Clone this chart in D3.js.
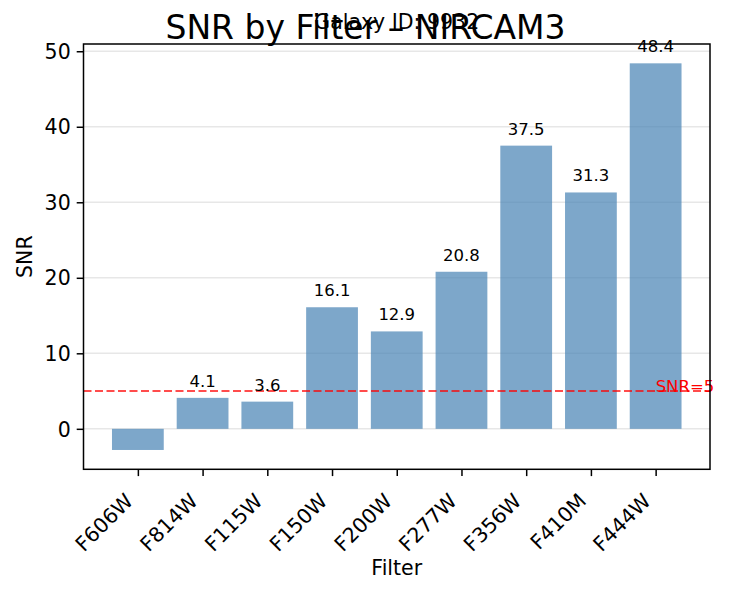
<!DOCTYPE html>
<html>
<head>
<meta charset="utf-8">
<script src="https://cdn.jsdelivr.net/npm/d3@7"></script>
<style>
  body { margin: 0; background: #fff; }
  svg text { font-family: "DejaVu Sans", sans-serif; }
</style>
</head>
<body>
<svg id="chart" width="729" height="593"></svg>
<script>
// Chart data
var filters = ["F606W", "F814W", "F115W", "F150W", "F200W", "F277W", "F356W", "F410M", "F444W"];
var snrValues = [-2.8, 4.1, 3.6, 16.1, 12.9, 20.8, 37.5, 31.3, 48.4];
var yTicks = [0, 10, 20, 30, 40, 50];
var threshold = 5;
var titleText = "SNR by Filter \u2013 NIRCAM3";
var subtitleText = "Galaxy ID: 9932";

var svg = d3.select("#chart");
var plot = { left: 83.5, right: 710, top: 44, bottom: 469.3 };

// x: positions like matplotlib bar with 5% margins
var n = filters.length;
var xPad = 0.05 * (n - 1 + 0.8);
var x = d3.scaleLinear()
  .domain([-0.4 - xPad, n - 1 + 0.4 + xPad])
  .range([plot.left, plot.right]);

var lo = Math.min(0, d3.min(snrValues));
var hi = Math.max(0, d3.max(snrValues));
var yPad = 0.05 * (hi - lo);
var y = d3.scaleLinear()
  .domain([lo - yPad, hi + yPad])
  .range([plot.bottom, plot.top]);

// grid lines
svg.append("g")
  .selectAll("line")
  .data(yTicks)
  .enter().append("line")
  .attr("x1", plot.left).attr("x2", plot.right)
  .attr("y1", d => y(d)).attr("y2", d => y(d))
  .attr("stroke", "#b0b0b0").attr("stroke-opacity", 0.3)
  .attr("stroke-width", 1.5);

// bars
var barW = x(0.8) - x(0);
svg.append("g")
  .selectAll("rect")
  .data(snrValues)
  .enter().append("rect")
  .attr("x", (d, i) => x(i) - barW / 2)
  .attr("width", barW)
  .attr("y", d => y(Math.max(0, d)))
  .attr("height", d => Math.abs(y(d) - y(0)))
  .attr("fill", "steelblue")
  .attr("fill-opacity", 0.7);

// threshold line
svg.append("line")
  .attr("x1", plot.left).attr("x2", plot.right)
  .attr("y1", y(threshold)).attr("y2", y(threshold))
  .attr("stroke", "red").attr("stroke-opacity", 0.7)
  .attr("stroke-width", 1.9)
  .attr("stroke-dasharray", "8,3.5");

svg.append("text")
  .attr("x", x(n - 1))
  .attr("y", y(threshold) + 1)
  .attr("fill", "red")
  .attr("font-size", 16.5)
  .text("SNR=" + threshold);

// axes
var xAxis = d3.axisBottom(x)
  .tickValues(d3.range(n))
  .tickFormat(i => filters[i])
  .tickSizeInner(6.8).tickSizeOuter(0).tickPadding(6);
var yAxis = d3.axisLeft(y)
  .tickValues(yTicks)
  .tickSizeInner(6.8).tickSizeOuter(0).tickPadding(6);

var gx = svg.append("g")
  .attr("transform", "translate(0," + plot.bottom + ")")
  .call(xAxis);
gx.select(".domain").remove();
gx.selectAll("line").attr("stroke", "#000").attr("stroke-width", 1.5);
gx.selectAll("text")
  .attr("font-size", 20.5)
  .attr("fill", "#000")
  .attr("text-anchor", "end")
  .attr("dy", null)
  .attr("y", null)
  .attr("transform", "translate(-4," + 33 + ") rotate(-45)");

var gy = svg.append("g")
  .attr("transform", "translate(" + plot.left + ",0)")
  .call(yAxis);
gy.select(".domain").remove();
gy.selectAll("line").attr("stroke", "#000").attr("stroke-width", 1.5);
gy.selectAll("text").attr("font-size", 20.5).attr("fill", "#000").attr("dy", "0.35em");

// spines
svg.append("rect")
  .attr("x", plot.left).attr("y", plot.top)
  .attr("width", plot.right - plot.left)
  .attr("height", plot.bottom - plot.top)
  .attr("fill", "none").attr("stroke", "#000").attr("stroke-width", 1.5);

// value labels above positive bars
svg.append("g")
  .selectAll("text")
  .data(snrValues.map((v, i) => ({ v: v, i: i })).filter(d => d.v > 0))
  .enter().append("text")
  .attr("x", d => x(d.i))
  .attr("y", d => y(d.v + 1) - 3.5)
  .attr("text-anchor", "middle")
  .attr("font-size", 16.5)
  .attr("fill", "#000")
  .text(d => d.v.toFixed(1));

// axis labels
svg.append("text")
  .attr("x", (plot.left + plot.right) / 2)
  .attr("y", 575)
  .attr("text-anchor", "middle")
  .attr("font-size", 20.5)
  .text("Filter");

svg.append("text")
  .attr("transform", "translate(32," + (plot.top + plot.bottom) / 2 + ") rotate(-90)")
  .attr("text-anchor", "middle")
  .attr("font-size", 20.5)
  .text("SNR");

// titles (they overlap in the original too)
svg.append("text")
  .attr("x", (plot.left + plot.right) / 2)
  .attr("y", 29)
  .attr("text-anchor", "middle")
  .attr("font-size", 20.5)
  .text(subtitleText);

svg.append("text")
  .attr("x", 729 / 2 + 1)
  .attr("y", 39)
  .attr("text-anchor", "middle")
  .attr("font-size", 33)
  .text(titleText);
</script>
</body>
</html>
